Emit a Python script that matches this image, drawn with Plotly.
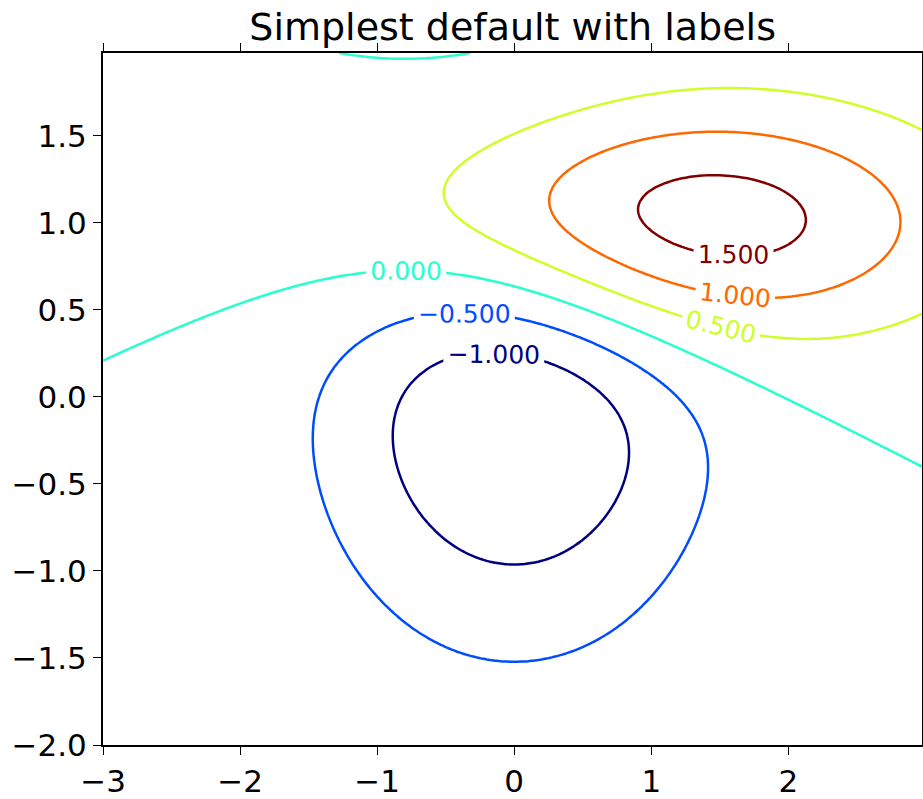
import numpy as np
import plotly.graph_objects as go

# Grid definition (matplotlib contour demo)
x_start, x_stop, y_start, y_stop, delta = -3.0, 3.0, -2.0, 2.0, 0.025

# Two bivariate gaussians: Z = sum(weight * N(center, sigma))
gauss_center_x = [0.0, 1.0]
gauss_center_y = [0.0, 1.0]
gauss_sigma_x = [1.0, 1.5]
gauss_sigma_y = [1.0, 0.5]
gauss_weight = [-10.0, 10.0]

levels = [-1.0, -0.5, 0.0, 0.5, 1.0, 1.5]
level_colors = ["#000080", "#004dff", "#29ffce", "#ceff29", "#ff6800", "#800000"]

x_ticks = [-3, -2, -1, 0, 1, 2]
y_ticks = [-2.0, -1.5, -1.0, -0.5, 0.0, 0.5, 1.0, 1.5]
title = "Simplest default with labels"

x = np.arange(x_start, x_stop, delta)
y = np.arange(y_start, y_stop, delta)
X, Y = np.meshgrid(x, y)
Z = np.zeros_like(X)
for cx, cy, sx, sy, w in zip(gauss_center_x, gauss_center_y, gauss_sigma_x,
                             gauss_sigma_y, gauss_weight):
    Z += w * np.exp(-((X - cx) ** 2 / (2 * sx ** 2) + (Y - cy) ** 2 / (2 * sy ** 2))) / (2 * np.pi * sx * sy)

fig = go.Figure()
for lev, col in zip(levels, level_colors):
    fig.add_trace(go.Contour(
        x=x, y=y, z=Z,
        autocontour=False,
        contours=dict(start=lev, end=lev, size=0.5, coloring="lines",
                      showlabels=True,
                      labelfont=dict(size=25, color=col, family="DejaVu Sans"),
                      labelformat=".3f"),
        colorscale=[[0, col], [1, col]],
        showscale=False,
        line=dict(width=2.5),
        hoverinfo="skip",
    ))

axis_common = dict(showline=True, linewidth=2, linecolor="black", mirror="ticks",
                   ticks="outside", ticklen=8, tickwidth=1, tickcolor="black",
                   showgrid=False, zeroline=False, automargin=False,
                   tickfont=dict(size=31, color="black", family="DejaVu Sans"))

fig.update_layout(
    width=923, height=799,
    margin=dict(l=103, r=1, t=53, b=54),
    paper_bgcolor="white", plot_bgcolor="white",
    title=dict(text=title, x=0.5554, xanchor="center", y=0.966, yanchor="middle",
               font=dict(size=38, color="black", family="DejaVu Sans")),
    xaxis=dict(range=[x[0], x[-1]], tickvals=x_ticks, tickformat="d", **axis_common),
    yaxis=dict(range=[y[0], y[-1]], tickvals=y_ticks, tickformat=".1f", **axis_common),
    showlegend=False,
)

fig.write_html("out.html",
               config={"displayModeBar": False},
               post_script="document.body.style.margin='0';document.body.style.overflow='hidden';")
